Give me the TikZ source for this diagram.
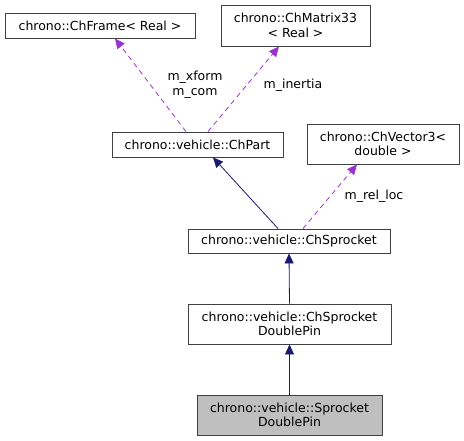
\documentclass[tikz,border=0pt]{standalone}
\usepackage{fontspec}
\setmainfont{DejaVu Sans}
\usetikzlibrary{arrows.meta}
\definecolor{inh}{HTML}{191970}
\definecolor{use}{HTML}{9A32CD}
\definecolor{bord}{HTML}{404040}
\tikzset{
  cls/.style={draw=bord, line width=0.9pt, fill=white, align=center, inner sep=0pt,
    font=\fontsize{12.5}{14.5}\selectfont},
  inhedge/.style={draw=inh, line width=0.8pt, -{Triangle[length=10pt,width=9pt]}},
  useedge/.style={draw=use, line width=0.8pt, dash pattern=on 5pt off 4pt, -{Triangle[length=10pt,width=9pt]}},
  lbl/.style={align=center, font=\fontsize{12.5}{14.5}\selectfont, inner sep=0pt}
}
\begin{document}
\begin{tikzpicture}[x=1pt,y=-1pt]
\useasboundingbox (0,0) rectangle (464,441);
\node[cls, minimum width=190pt, minimum height=25pt] (frame) at (100,25.5) {chrono::ChFrame< Real >};
\node[cls, minimum width=149pt, minimum height=41pt] (matrix) at (295.5,25.5) {chrono::ChMatrix33\\< Real >};
\node[cls, minimum width=171pt, minimum height=25pt] (part) at (197.5,144.5) {chrono::vehicle::ChPart};
\node[cls, minimum width=152pt, minimum height=40pt] (vector) at (383,144) {chrono::ChVector3<\\double >};
\node[cls, minimum width=202pt, minimum height=24pt] (sprocket) at (289,241) {chrono::vehicle::ChSprocket};
\node[cls, minimum width=203pt, minimum height=40pt] (chdp) at (289.5,324) {chrono::vehicle::ChSprocket\\DoublePin};
\node[cls, fill={rgb,255:red,191;green,191;blue,191}, minimum width=185pt, minimum height=40pt] (sdp) at (289.5,415) {chrono::vehicle::Sprocket\\DoublePin};

\draw[useedge] ([xshift=-11.5pt]part.north) -- ([xshift=15pt]frame.south);
\draw[useedge] ([xshift=10.5pt]part.north) -- ([xshift=-16.5pt]matrix.south);
\draw[inhedge] ([xshift=-11pt]sprocket.north) -- ([xshift=15.5pt]part.south);
\draw[useedge] ([xshift=14pt]sprocket.north) -- ([xshift=-26pt]vector.south);
\draw[inhedge] (chdp.north) -- (sprocket.south);
\draw[inhedge] (sdp.north) -- (chdp.south);

\node[lbl] (l1) at (195,84.5) {m\_xform\\m\_com};
\node[lbl] (l2) at (293,85) {m\_inertia};
\node[lbl] (l3) at (374,196) {m\_rel\_loc};
\end{tikzpicture}
\end{document}
